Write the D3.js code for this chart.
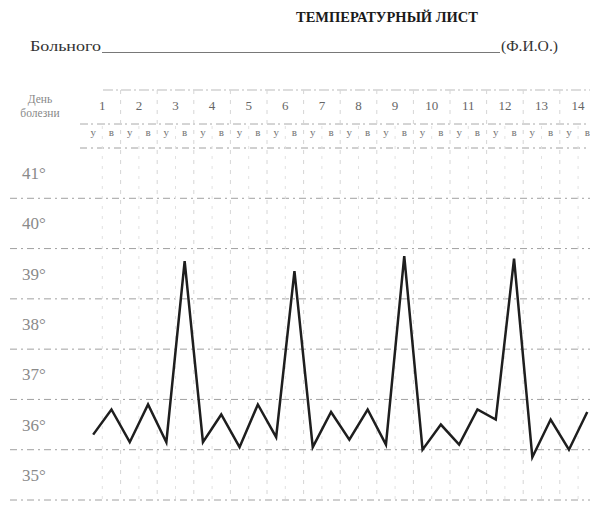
<!DOCTYPE html>
<html>
<head>
<meta charset="utf-8">
<script src="https://cdn.jsdelivr.net/npm/d3@7/dist/d3.min.js"></script>
<style>
  html, body { margin: 0; padding: 0; background: #fff; }
  svg { display: block; }
  text { font-family: "Liberation Serif", "DejaVu Serif", serif; }
</style>
</head>
<body>
<svg id="sheet" width="590" height="506"></svg>
<script>
// Sheet texts
const title = "ТЕМПЕРАТУРНЫЙ ЛИСТ";
const patientLabel = "Больного";
const nameHint = "(Ф.И.О.)";
const dayHeader = ["День", "болезни"];

// Days of illness and the two readings per day (утро / вечер)
const days = [1, 2, 3, 4, 5, 6, 7, 8, 9, 10, 11, 12, 13, 14];
const dayParts = ["у", "в"];

// Temperature axis labels (°C)
const tempTicks = [41, 40, 39, 38, 37, 36, 35];

// Readings, morning and evening for each day
const temps = [
  35.8, 36.3,  35.65, 36.4,  35.65, 39.25, 35.65, 36.2,  35.55, 36.4,
  35.75, 39.05, 35.55, 36.25, 35.7, 36.3,  35.6, 39.35, 35.5, 36.0,
  35.6, 36.3,  36.1, 39.3,  35.35, 36.1,  35.5, 36.25
];

const svg = d3.select("#sheet");

// Scales
const gridLeft = 84, gridRight = 596.4;
const slots = d3.range(days.length * dayParts.length);
const xSlot = d3.scaleBand().domain(slots).range([gridLeft, gridRight]).padding(0);
const xDay = d3.scaleBand().domain(days).range([gridLeft, gridRight]).padding(0);
const y = d3.scaleLinear().domain([34.5, 41.5]).range([500, 148]);

// Heading
svg.append("text")
  .attr("x", 387).attr("y", 22)
  .attr("text-anchor", "middle")
  .attr("font-size", 14.5).attr("font-weight", "bold")
  .attr("fill", "#1a1a1a")
  .text(title);

svg.append("text")
  .attr("x", 30).attr("y", 51)
  .attr("font-size", 14.5).attr("fill", "#333")
  .attr("textLength", 71).attr("lengthAdjust", "spacingAndGlyphs")
  .text(patientLabel);
svg.append("line")
  .attr("x1", 102).attr("x2", 500).attr("y1", 52.5).attr("y2", 52.5)
  .attr("stroke", "#555").attr("stroke-width", 0.8);
svg.append("text")
  .attr("x", 501).attr("y", 51)
  .attr("font-size", 14).attr("fill", "#333")
  .attr("textLength", 57).attr("lengthAdjust", "spacingAndGlyphs")
  .text(nameHint);

// Grid
const grid = svg.append("g");

// header rules
grid.append("line")
  .attr("x1", 103).attr("x2", 590).attr("y1", 90).attr("y2", 90)
  .attr("stroke", "#bbb").attr("stroke-width", 1).attr("stroke-dasharray", "10,3,2,3");
grid.append("line")
  .attr("x1", 80).attr("x2", 590).attr("y1", 124).attr("y2", 124)
  .attr("stroke", "#aaa").attr("stroke-width", 1).attr("stroke-dasharray", "8,3,2,4");

// degree rules, one per band edge
const bandEdges = d3.range(41.5, 34, -1);
grid.selectAll("line.h").data(bandEdges).join("line")
  .attr("class", "h")
  .attr("x1", (d, i) => i === 0 ? 80 : 10)
  .attr("x2", 590)
  .attr("y1", d => y(d)).attr("y2", d => y(d))
  .attr("stroke", "#a0a0a0").attr("stroke-width", 1)
  .attr("stroke-dasharray", "7,4,2,4");

// reading columns
grid.selectAll("line.vs").data(slots.filter(i => i % 2 === 1)).join("line")
  .attr("class", "vs")
  .attr("x1", d => xSlot(d)).attr("x2", d => xSlot(d))
  .attr("y1", 126).attr("y2", 500)
  .attr("stroke", "#e2e2e2").attr("stroke-width", 1)
  .attr("stroke-dasharray", "3,7");

// day columns
grid.selectAll("line.vd").data(days.slice(1)).join("line")
  .attr("class", "vd")
  .attr("x1", d => xDay(d)).attr("x2", d => xDay(d))
  .attr("y1", 90).attr("y2", 500)
  .attr("stroke", "#d6d6d6").attr("stroke-width", 1)
  .attr("stroke-dasharray", "4,6");

// Header labels
svg.append("text")
  .attr("x", 40).attr("y", 103)
  .attr("text-anchor", "middle")
  .attr("font-size", 11.5).attr("fill", "#888")
  .text(dayHeader[0]);
svg.append("text")
  .attr("x", 40).attr("y", 117)
  .attr("text-anchor", "middle")
  .attr("font-size", 11.5).attr("fill", "#888")
  .text(dayHeader[1]);

svg.selectAll("text.day").data(days).join("text")
  .attr("class", "day")
  .attr("x", d => xDay(d) + xDay.bandwidth() / 2)
  .attr("y", 110)
  .attr("text-anchor", "middle")
  .attr("font-size", 13).attr("fill", "#666")
  .text(d => d);

svg.selectAll("text.part").data(slots).join("text")
  .attr("class", "part")
  .attr("x", d => xSlot(d) + xSlot.bandwidth() / 2)
  .attr("y", 136)
  .attr("text-anchor", "middle")
  .attr("font-size", 11).attr("fill", "#777")
  .text(d => dayParts[d % 2]);

// Temperature labels
svg.selectAll("text.temp").data(tempTicks).join("text")
  .attr("class", "temp")
  .attr("x", 22)
  .attr("y", d => y(d) + 6)
  .attr("font-size", 17).attr("fill", "#8a8a8a")
  .text(d => d + "°");

// Temperature curve
const line = d3.line()
  .x((d, i) => xSlot(i) + xSlot.bandwidth() / 2)
  .y(d => y(d));

svg.append("path")
  .datum(temps)
  .attr("d", line)
  .attr("fill", "none")
  .attr("stroke", "#1e1e1e")
  .attr("stroke-width", 2.5)
  .attr("stroke-linejoin", "miter");
</script>
</body>
</html>
